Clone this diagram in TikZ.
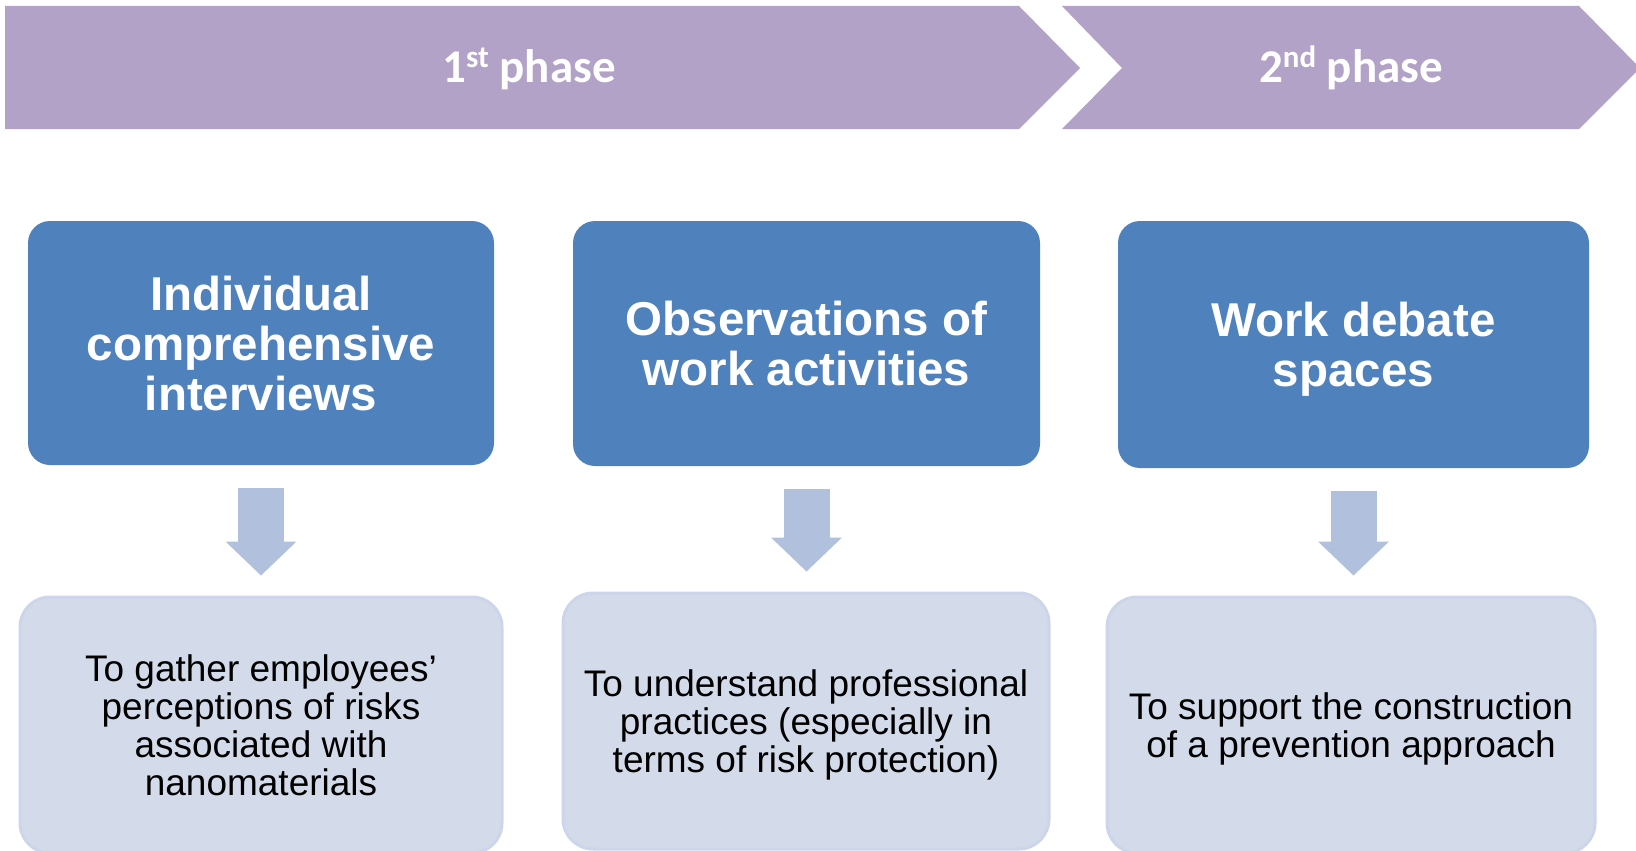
\documentclass[tikz,border=0pt]{standalone}
\usepackage{fontspec}
\setmainfont{Liberation Sans}
\newfontfamily\phasefont{Carlito}
\usetikzlibrary{arrows.meta}
\definecolor{phasecol}{RGB}{178,162,199}
\definecolor{methodcol}{RGB}{79,129,189}
\definecolor{flowcol}{RGB}{177,193,221}
\definecolor{goalcol}{RGB}{211,218,233}
\definecolor{goalline}{RGB}{205,213,234}
\newcommand\phsup[1]{\raisebox{16pt}{\fontsize{31}{31}\selectfont #1}}

\begin{document}
\begin{tikzpicture}[x=1pt,y=-1pt,
    ptitle/.style={text=white,font=\phasefont\bfseries\fontsize{47}{50}\selectfont,anchor=base,inner sep=0pt},
    method/.style={fill=methodcol,rounded corners=22pt,text=white,align=center,inner sep=0pt,text depth=0pt,
      font=\bfseries\fontsize{47.5}{50}\selectfont},
    goal/.style={fill=goalcol,draw=goalline,line width=3pt,rounded corners=30pt,align=center,inner sep=0pt,text depth=0pt,
      font=\fontsize{37}{38}\selectfont},
    flow/.style={draw=flowcol,line width=46pt,-{Triangle[width=71pt,length=34pt,line width=0pt]},
      shorten <=23pt,shorten >=20pt}]
    \useasboundingbox (0,0) rectangle (1636,851);
    \clip (0,0) rectangle (1636,851);
    \fill[phasecol] (5,6) -- (1019,6) -- (1080,68) -- (1019,129) -- (5,129) -- cycle;
    \fill[phasecol] (1062,6) -- (1579,6) -- (1640,68) -- (1579,129) -- (1062,129) -- (1122,68) -- cycle;
    \node[ptitle] (p1) at (529,83) {1\phsup{st} phase};
    \node[ptitle] (p2) at (1351,83) {2\phsup{nd} phase};
    \node[method,minimum width=466pt,minimum height=244pt] (b1) at (261,343) {Individual\\comprehensive\\interviews};
    \node[method,minimum width=467pt,minimum height=245pt] (b2) at (806.5,343.5) {Observations of\\work activities};
    \node[method,minimum width=471pt,minimum height=247pt] (b3) at (1353.5,344.5) {Work debate\\spaces};
    \node[goal,minimum width=482pt,minimum height=256pt] (g1) at (261,725) {To gather employees’\\perceptions of risks\\associated with\\nanomaterials};
    \node[goal,minimum width=486pt,minimum height=256pt] (g2) at (806,721) {To understand professional\\practices (especially in\\terms of risk protection)};
    \node[goal,minimum width=488pt,minimum height=256pt] (g3) at (1351,725) {To support the construction\\of a prevention approach};
    \draw[flow] (b1.south) -- (b1.south |- g1.north);
    \draw[flow] (b2.south) -- (b2.south |- g2.north);
    \draw[flow] (b3.south) -- (b3.south |- g3.north);
\end{tikzpicture}
\end{document}
